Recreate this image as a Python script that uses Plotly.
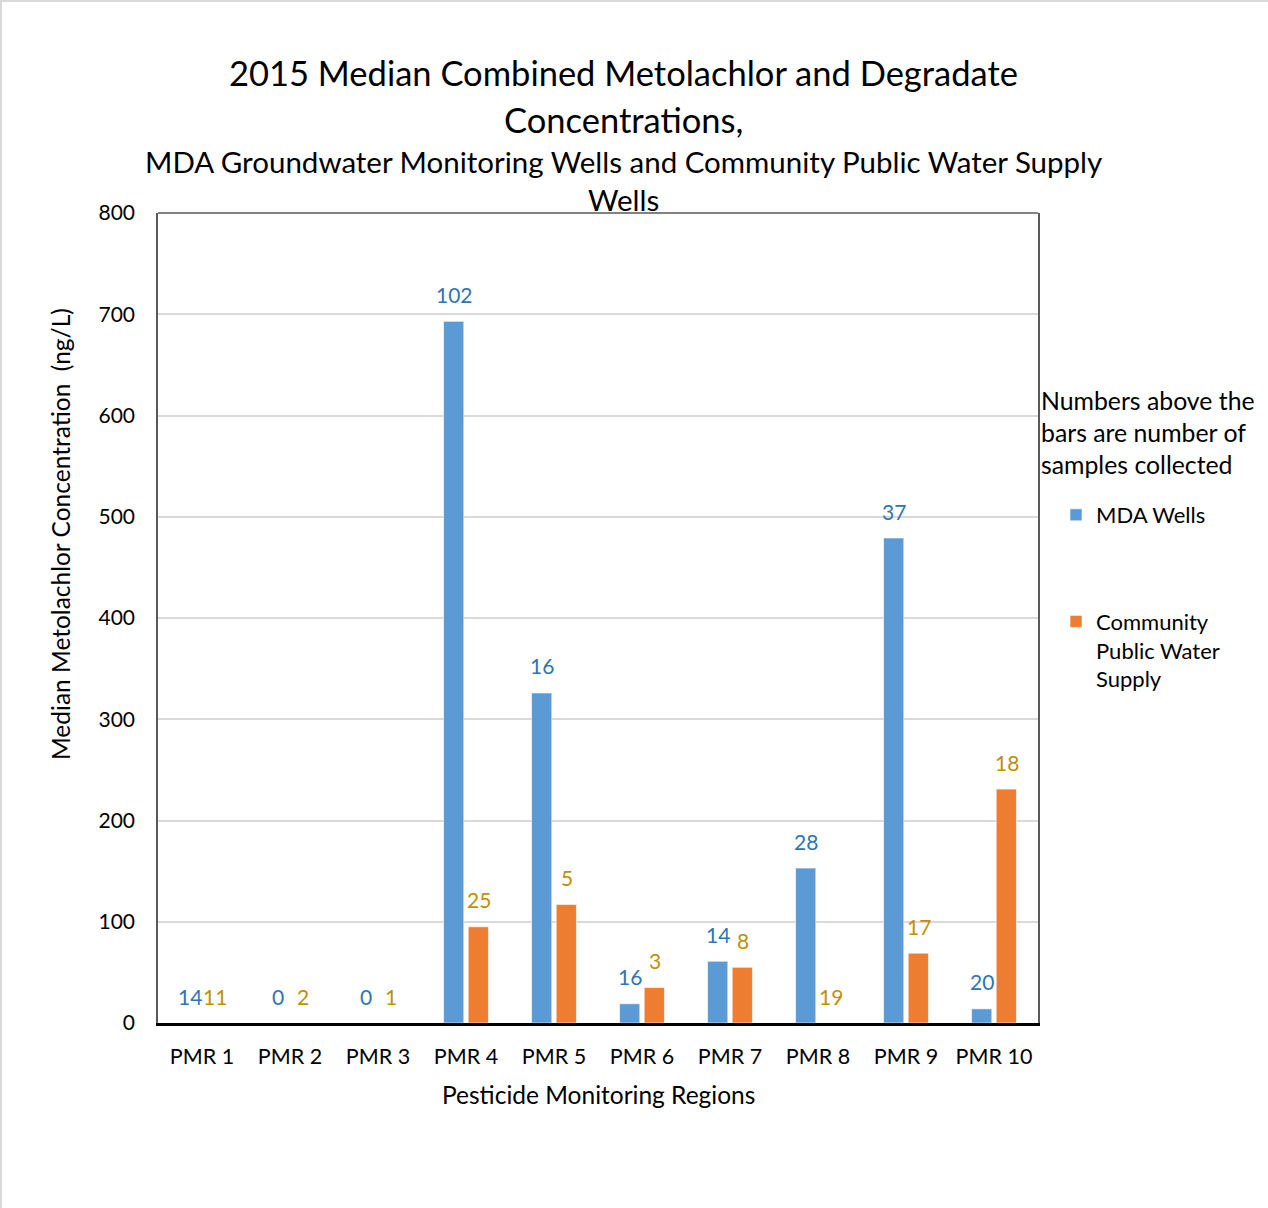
import plotly.graph_objects as go

# Pesticide Monitoring Regions
regions = ["PMR 1", "PMR 2", "PMR 3", "PMR 4", "PMR 5",
           "PMR 6", "PMR 7", "PMR 8", "PMR 9", "PMR 10"]

# Median combined metolachlor + degradate concentration (ng/L)
mda_median = [0, 0, 0, 693, 326, 19, 61, 153, 479, 14]
cpws_median = [0, 0, 0, 95, 117, 35, 55, 0, 69, 231]

# Number of samples collected (printed above each bar)
mda_samples = [14, 0, 0, 102, 16, 16, 14, 28, 37, 20]
cpws_samples = [11, 2, 1, 25, 5, 3, 8, 19, 17, 18]

y_ticks = [0, 100, 200, 300, 400, 500, 600, 700, 800]

FONT = "Lato"
BLUE = "#5B9BD5"
ORANGE = "#ED7D31"
BLUE_TXT = "#2E75B6"
GOLD_TXT = "#BF9000"

fig = go.Figure()
fig.add_trace(go.Bar(
    x=regions, y=mda_median, name="MDA Wells",
    marker=dict(color=BLUE, line=dict(color="white", width=0.6)),
    width=0.23, offset=-0.255, legendgroup="a",
))
fig.add_trace(go.Bar(
    x=regions, y=cpws_median, name="Community<br>Public Water<br>Supply",
    marker=dict(color=ORANGE, line=dict(color="white", width=0.6)),
    width=0.23, offset=0.025, legendgroup="b",
))

annotations = []
# sample counts above the bars
for r, v, n in zip(regions, mda_median, mda_samples):
    annotations.append(dict(x=r, y=v, xref="x", yref="y", text=str(n),
                            showarrow=False, xshift=-12, yshift=27,
                            yanchor="middle",
                            font=dict(family=FONT, size=21, color=BLUE_TXT)))
for r, v, n in zip(regions, cpws_median, cpws_samples):
    annotations.append(dict(x=r, y=v, xref="x", yref="y", text=str(n),
                            showarrow=False, xshift=13, yshift=27,
                            yanchor="middle",
                            font=dict(family=FONT, size=21, color=GOLD_TXT)))

# plot area in pixels: left 158, right 1038, top 213, bottom 1023
L, R, T, B = 158, 1038, 213, 1023
W, H = R - L, B - T


def px(x):
    return (x - L) / W


def py(y):
    return (B - y) / H


title_lines = [
    ("2015 Median Combined Metolachlor and Degradate", 73, 34.5),
    ("Concentrations,", 119, 34.5),
    ("MDA Groundwater Monitoring Wells and Community Public Water Supply", 161, 29.5),
    ("Wells", 199, 29.5),
]
for txt, yc, sz in title_lines:
    annotations.append(dict(x=px(623), y=py(yc), xref="paper", yref="paper",
                            text=txt, showarrow=False, xanchor="center",
                            yanchor="middle",
                            font=dict(family=FONT, size=sz, color="black")))

annotations.append(dict(x=px(60), y=py(534), xref="paper", yref="paper",
                        text="Median Metolachlor Concentration  (ng/L)",
                        textangle=-90, showarrow=False, xanchor="center",
                        yanchor="middle",
                        font=dict(family=FONT, size=24.5, color="black")))
annotations.append(dict(x=px(598), y=py(1094), xref="paper", yref="paper",
                        text="Pesticide Monitoring Regions", showarrow=False,
                        xanchor="center", yanchor="middle",
                        font=dict(family=FONT, size=24.5, color="black")))
annotations.append(dict(x=px(1039), y=py(432), xref="paper", yref="paper",
                        text="Numbers above the<br>bars are number of<br>samples collected",
                        showarrow=False, xanchor="left", yanchor="middle",
                        align="left",
                        font=dict(family=FONT, size=24.8, color="black")))

shapes = [
    # top frame line
    dict(type="line", xref="paper", yref="paper", x0=0, x1=1, y0=1, y1=1,
         line=dict(color="#595959", width=1.5)),
    # outer chart border (left and top)
    dict(type="line", xref="paper", yref="paper", x0=px(1), x1=px(1),
         y0=py(0), y1=py(1208), line=dict(color="#D9D9D9", width=2)),
    dict(type="line", xref="paper", yref="paper", x0=px(0), x1=px(1268),
         y0=py(1), y1=py(1), line=dict(color="#D9D9D9", width=2)),
]

fig.update_layout(
    width=1268, height=1208,
    margin=dict(l=L, r=1268 - R, t=T, b=1208 - B, autoexpand=False),
    paper_bgcolor="white", plot_bgcolor="white",
    barmode="overlay",
    font=dict(family=FONT, size=20, color="black"),
    showlegend=True,
    legend=dict(x=px(1056), y=py(494), xanchor="left", yanchor="top",
                font=dict(family=FONT, size=22, color="black"),
                tracegroupgap=75, valign="top", traceorder="grouped",
                bgcolor="rgba(0,0,0,0)"),
    annotations=annotations,
    shapes=shapes,
)
fig.update_xaxes(
    type="category", showgrid=False, showline=True, linecolor="black",
    linewidth=2.5, ticks="", ticklabelstandoff=12,
    tickfont=dict(family=FONT, size=21.5, color="black"),
)
fig.update_yaxes(
    range=[0, 800], tickvals=y_ticks, showgrid=True, gridcolor="#D9D9D9",
    gridwidth=1.5, showline=True, mirror=True, linecolor="#595959",
    linewidth=1.5, ticks="", ticklabelstandoff=17, zeroline=False,
    tickfont=dict(family=FONT, size=21, color="black"),
)

fig.write_html("out.html")
